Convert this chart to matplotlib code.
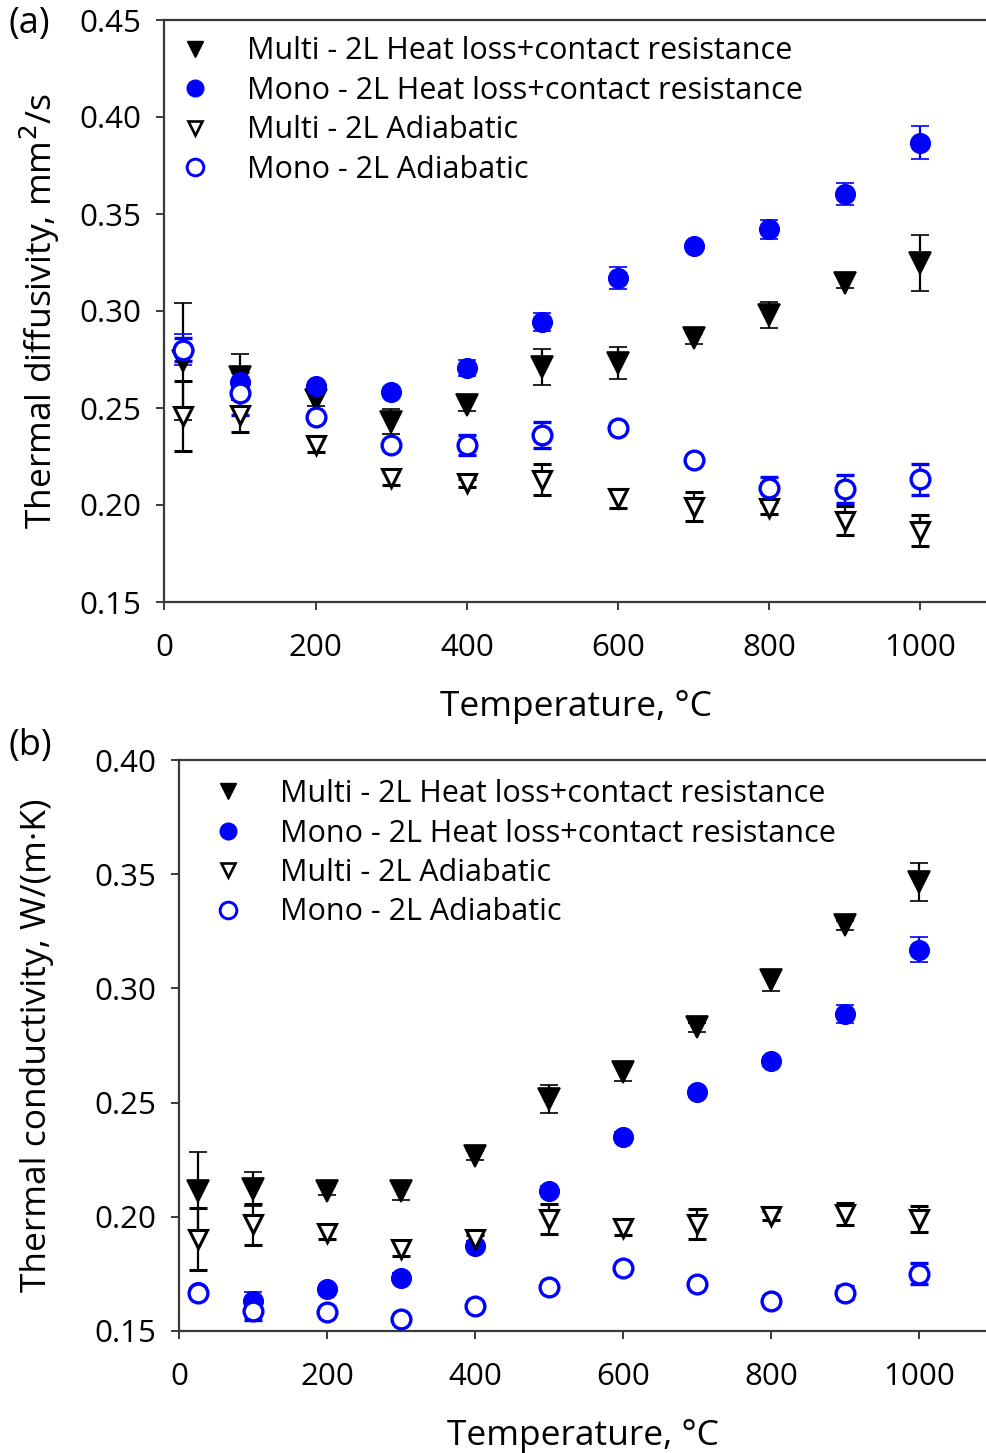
import matplotlib
matplotlib.use("Agg")
import matplotlib.pyplot as plt
from matplotlib.lines import Line2D

plt.rcParams['font.family'] = ['Open Sans', 'DejaVu Sans']

temps = [25, 100, 200, 300, 400, 500, 600, 700, 800, 900, 1000]

# Panel (a): thermal diffusivity, mm^2/s
a_multi_hl = [0.274, 0.266, 0.254, 0.243, 0.2515, 0.2713, 0.273, 0.2859, 0.298, 0.3146, 0.3249]
a_multi_hl_err = [0.030, 0.012, 0.003, 0.0065, 0.003, 0.0093, 0.0083, 0.003, 0.0066, 0.003, 0.0145]
a_mono_hl = [0.280, 0.2636, 0.2613, 0.2584, 0.2705, 0.2945, 0.3169, 0.3337, 0.3421, 0.3602, 0.3868]
a_mono_hl_err = [0.008, 0.005, 0.002, 0.002, 0.004, 0.0047, 0.0058, 0.002, 0.005, 0.0056, 0.0084]
a_multi_ad = [0.246, 0.2465, 0.231, 0.2138, 0.2112, 0.2129, 0.2034, 0.1991, 0.1983, 0.1919, 0.1868]
a_multi_ad_err = [0.018, 0.009, 0.0036, 0.0035, 0.002, 0.008, 0.005, 0.0075, 0.003, 0.0074, 0.008]
a_mono_ad = [0.280, 0.2576, 0.2455, 0.231, 0.231, 0.236, 0.2395, 0.2232, 0.2086, 0.2081, 0.2132]
a_mono_ad_err = [0.006, 0.011, 0.002, 0.002, 0.005, 0.0066, 0.002, 0.002, 0.006, 0.0073, 0.0078]

# Panel (b): thermal conductivity, W/(m K)
b_multi_hl = [0.2114, 0.2121, 0.2114, 0.2114, 0.2268, 0.2516, 0.2633, 0.283, 0.3035, 0.3276, 0.3466]
b_multi_hl_err = [0.017, 0.0074, 0.002, 0.004, 0.002, 0.006, 0.004, 0.002, 0.0045, 0.002, 0.0083]
b_mono_hl = [0.167, 0.163, 0.1683, 0.1734, 0.1873, 0.2114, 0.2351, 0.2545, 0.2681, 0.2889, 0.317]
b_mono_hl_err = [0.002, 0.004, 0.002, 0.002, 0.002, 0.002, 0.002, 0.002, 0.002, 0.004, 0.0053]
b_multi_ad = [0.1902, 0.1968, 0.1931, 0.1858, 0.1902, 0.199, 0.195, 0.1968, 0.2004, 0.2012, 0.199]
b_multi_ad_err = [0.0135, 0.009, 0.003, 0.003, 0.002, 0.0065, 0.003, 0.0065, 0.002, 0.005, 0.0057]
b_mono_ad = [0.1668, 0.1588, 0.1585, 0.1554, 0.161, 0.1694, 0.1778, 0.1705, 0.1632, 0.1668, 0.1751]
b_mono_ad_err = [0.002, 0.004, 0.001, 0.001, 0.001, 0.001, 0.001, 0.001, 0.002, 0.003, 0.0047]

labels = ["Multi - 2L Heat loss+contact resistance",
          "Mono - 2L Heat loss+contact resistance",
          "Multi - 2L Adiabatic",
          "Mono - 2L Adiabatic"]

BLUE = "#0000ff"
SPINE = "#3a3a3a"
W, H = 987, 1453
fig = plt.figure(figsize=(W / 100, H / 100), dpi=100)

def fx(px):
    return px / W

def fy(py):
    return 1 - py / H

ax_a = fig.add_axes([fx(164.5), fy(602), 1 - fx(164.5), fy(20) - fy(602)])
ax_b = fig.add_axes([fx(179.5), fy(1331), 1 - fx(179.5), fy(760) - fy(1331)])

def draw(ax, series, xmax, ylim, yticks, ylabel, leg_x, leg_y, ylabelpad):
    styles = [
        dict(marker='v', ms=15.5, mfc='black', mec='black', mew=1.2, ecolor='black', color='black'),
        dict(marker='o', ms=14, mfc=BLUE, mec=BLUE, mew=1.2, ecolor=BLUE, color=BLUE),
        dict(marker='v', ms=13.5, mfc='white', mec='black', mew=2.2, ecolor='black', color='black'),
        dict(marker='o', ms=13.5, mfc='white', mec=BLUE, mew=2.4, ecolor=BLUE, color=BLUE),
    ]
    for (vals, errs), st in zip(series, styles):
        ax.errorbar(temps, vals, yerr=errs, linestyle='none', capsize=6.5,
                    elinewidth=1.6, capthick=1.6, zorder=3, **st)
    ax.set_xlim(0, xmax)
    ax.set_ylim(*ylim)
    ax.set_xticks([0, 200, 400, 600, 800, 1000])
    ax.set_yticks(yticks)
    ax.set_yticklabels([f"{t:.2f}" for t in yticks])
    ax.spines['right'].set_visible(False)
    for s in ['left', 'bottom', 'top']:
        ax.spines[s].set_color(SPINE)
        ax.spines[s].set_linewidth(1.6)
    ax.tick_params(axis='both', direction='out', length=6, width=1.4, color=SPINE,
                   labelsize=22.5, pad=11)
    ax.tick_params(axis='x', pad=16)
    ax.set_xlabel("Temperature, °C", fontsize=25.5, labelpad=20)
    ax.set_ylabel(ylabel, fontsize=25.5, labelpad=ylabelpad)
    handles = [
        Line2D([], [], linestyle='none', marker='v', ms=12, mfc='black', mec='black'),
        Line2D([], [], linestyle='none', marker='o', ms=12, mfc=BLUE, mec=BLUE),
        Line2D([], [], linestyle='none', marker='v', ms=10.5, mfc='white', mec='black', mew=1.9),
        Line2D([], [], linestyle='none', marker='o', ms=12, mfc='white', mec=BLUE, mew=2.1),
    ]
    ax.legend(handles, labels, loc='upper left', bbox_to_anchor=(leg_x, leg_y),
              frameon=False, fontsize=22, handlelength=1.0, handletextpad=1.2,
              labelspacing=0.31, borderaxespad=0)

draw(ax_a, [(a_multi_hl, a_multi_hl_err), (a_mono_hl, a_mono_hl_err),
            (a_multi_ad, a_multi_ad_err), (a_mono_ad, a_mono_ad_err)],
     (W - 164.5) / 0.756, (0.15, 0.45), [0.15, 0.20, 0.25, 0.30, 0.35, 0.40, 0.45],
     "Thermal diffusivity, mm$^2$/s", 0.004, 0.993, 12)
draw(ax_b, [(b_multi_hl, b_multi_hl_err), (b_mono_hl, b_mono_hl_err),
            (b_multi_ad, b_multi_ad_err), (b_mono_ad, b_mono_ad_err)],
     (W - 179.5) / 0.74, (0.15, 0.40), [0.15, 0.20, 0.25, 0.30, 0.35, 0.40],
     "Thermal conductivity, W/(m·K)", 0.026, 0.988, 29)

fig.text(fx(8), fy(24), "(a)", fontsize=26, ha='left', va='center')
fig.text(fx(8), fy(746), "(b)", fontsize=26, ha='left', va='center')

fig.savefig("out.png", dpi=100)
